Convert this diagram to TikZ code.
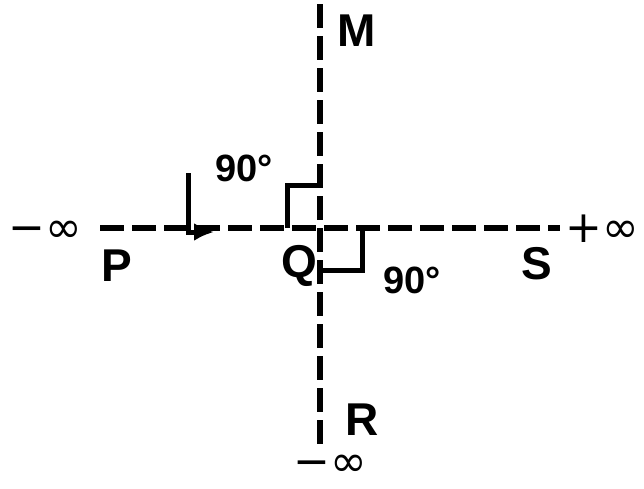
\documentclass[tikz,border=0pt]{standalone}
\usepackage{fontspec}
\setmainfont{Liberation Sans}
\newfontfamily\symfnt{DejaVu Sans}
\usetikzlibrary{arrows.meta}
\begin{document}
\begin{tikzpicture}[x=1pt,y=-1pt,
  axis/.style={line width=6pt,dash pattern=on 24pt off 8pt},
  solidline/.style={line width=5pt},
  big/.style={font=\fontsize{46}{48}\selectfont\bfseries},
  small/.style={font=\fontsize{38}{40}\selectfont\bfseries},
  inf/.style={font=\fontsize{44}{46}\selectfont\symfnt, inner sep=1pt, text height=24pt, text depth=0pt}]
\useasboundingbox (0,0) rectangle (644,488);
\coordinate (hl) at (100,228);
\coordinate (hr) at (560,228);
\coordinate (vt) at (320,4);
\coordinate (vb) at (320,450);
\draw[axis] (hl) -- (hr);
\draw[axis] (vt) -- (vb);
% right angle marks
\coordinate (a1) at (287,228);
\coordinate (a2) at (287,185);
\coordinate (a3) at (320,185);
\draw[solidline] (a1) -- (a2) -- (a3);
\coordinate (b1) at (320,270);
\coordinate (b2) at (362,270);
\coordinate (b3) at (362,228);
\draw[solidline] (b1) -- (b2) -- (b3);
% arrow
\coordinate (s) at (188,173);
\coordinate (t) at (214,232);
\draw[line width=5pt,-{Latex[length=20pt,width=18pt]}] (s) |- (t);
% labels
\node[inf] (lm) at (45,230) {−∞};
\node[inf] (rp) at (602,230) {+∞};
\node[inf] (bm) at (330,464) {−∞};
\node[big] (P) at (117,266) {P};
\node[big] (Q) at (299,266) {Q};
\node[big] (S) at (537,264) {S};
\node[big] (M) at (357,31) {M};
\node[big] (R) at (362,420) {R};
\node[small] (d1) at (244,168) {90°};
\node[small] (d2) at (412,280) {90°};
\end{tikzpicture}
\end{document}
